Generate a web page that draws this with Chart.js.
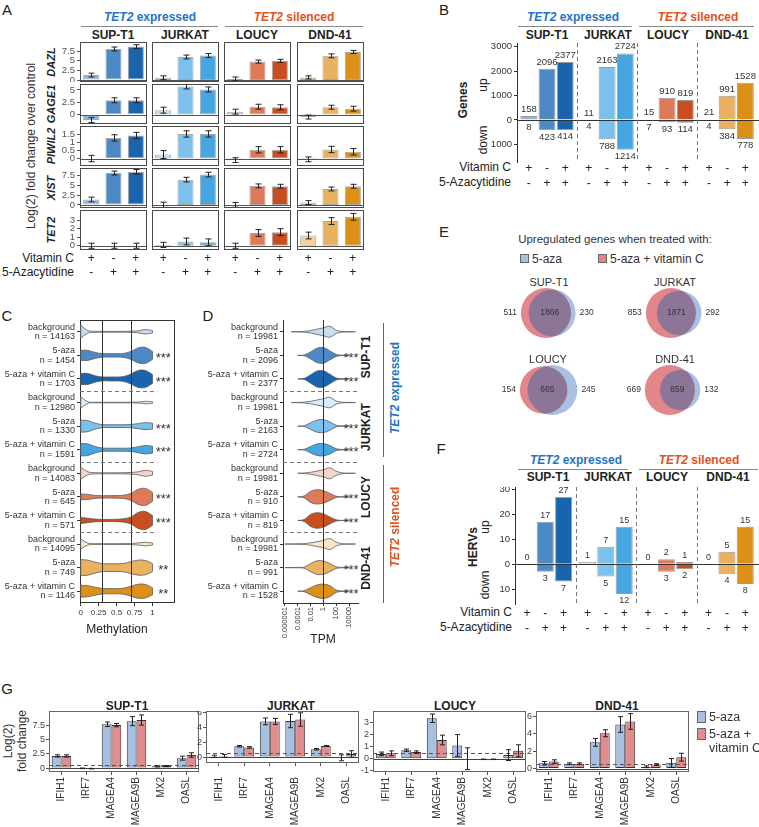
<!DOCTYPE html>
<html lang="en">
<head>
<meta charset="UTF-8">
<script src="https://cdn.jsdelivr.net/npm/chart.js"></script>
<title>TET2 expression and 5-azacytidine response</title>
<style>
  body { margin: 0; background: #fff; }
  #fig { position: relative; width: 759px; height: 827px; overflow: hidden; font-family: "Liberation Sans", Arial, sans-serif; }
  #fig canvas { position: absolute; }
  .t { position: absolute; white-space: nowrap; line-height: 1; }
  .rule { position: absolute; background: #777; }
  .sq { position: absolute; border: 1px solid #666; box-sizing: border-box; }
</style>
</head>
<body>
<div id="fig"></div>
<script>
// ---------- data ----------
const cellLines = ['SUP-T1', 'JURKAT', 'LOUCY', 'DND-41'];
const vitaminC = ['+', '-', '+'];
const azacytidine = ['-', '+', '+'];

// A: log2 fold change, [cell line][vitC, 5-aza, 5-aza+vitC]
const genesA = ['DAZL', 'GAGE1', 'PIWIL2', 'XIST', 'TET2'];
const dazlFold = [[1.3, 8.1, 8.7], [0.6, 6.0, 6.4], [0.3, 4.8, 5.0], [0.7, 6.3, 7.3]];
const dazlErr = [[0.5, 0.5, 0.5], [0.5, 0.5, 0.5], [0.5, 0.4, 0.4], [0.4, 0.5, 0.4]];
const gage1Fold = [[-1.1, 2.9, 2.9], [0.9, 5.7, 5.1], [0.6, 1.6, 1.5], [-0.5, 1.5, 1.2]];
const gage1Err = [[0.5, 0.5, 0.5], [0.6, 0.5, 0.5], [0.5, 0.5, 0.5], [0.4, 0.4, 0.5]];
const piwil2Fold = [[0, 1.3, 1.45], [0.25, 1.55, 1.55], [-0.1, 0.55, 0.55], [-0.05, 0.57, 0.43]];
const piwil2Err = [[0.2, 0.2, 0.2], [0.25, 0.2, 0.2], [0.15, 0.2, 0.2], [0.15, 0.2, 0.2]];
const xistFold = [[1.4, 8.2, 8.5], [0, 6.5, 7.8], [0, 4.9, 4.8], [0.6, 4.1, 4.8]];
const xistErr = [[0.6, 0.5, 0.6], [0.7, 0.6, 0.6], [0.6, 0.5, 0.5], [0.5, 0.5, 0.5]];
const tet2Fold = [[0, 0, 0], [0.1, 0.5, 0.4], [0, 1.5, 1.6], [1.2, 2.9, 3.4]];
const tet2Err = [[0.3, 0.3, 0.3], [0.3, 0.4, 0.4], [0.3, 0.4, 0.4], [0.4, 0.4, 0.4]];

// B: differentially expressed genes
const genesUp = [158, 2096, 2377, 11, 2163, 2724, 15, 910, 819, 21, 991, 1528];
const genesDown = [8, 423, 414, 4, 788, 1214, 7, 93, 114, 4, 384, 778];

// F: HERVs
const hervsUp = [0, 17, 27, 1, 7, 15, 0, 2, 1, 0, 5, 15];
const hervsDown = [0, 3, 7, 0, 5, 12, 0, 3, 2, 0, 4, 8];

// C / D: violins
const violinGroups = ['background', '5-aza', '5-aza + vitamin C'];
const methN = [14163, 1454, 1703, 12980, 1330, 1591, 14083, 645, 571, 14095, 749, 1146];
const tpmN = [19981, 2096, 2377, 19981, 2163, 2724, 19981, 910, 819, 19981, 991, 1528];
const methStars = ['', '***', '***', '', '***', '***', '', '***', '***', '', '**', '**'];
const tpmStars = ['', '***', '***', '', '***', '***', '', '***', '***', '', '***', '***'];
const methGrid = [0, 0.1, 0.2, 0.3, 0.4, 0.5, 0.6, 0.7, 0.8, 0.9, 1.0];
const methDensity = [
  [0.65, 0.12, 0.05, 0.04, 0.04, 0.04, 0.04, 0.05, 0.1, 0.22, 0.12],
  [0.5, 0.5, 0.3, 0.18, 0.17, 0.17, 0.2, 0.4, 0.75, 0.8, 0.4],
  [0.55, 0.55, 0.32, 0.2, 0.2, 0.2, 0.25, 0.5, 0.85, 0.85, 0.45],
  [0.55, 0.08, 0.03, 0.03, 0.03, 0.03, 0.03, 0.03, 0.05, 0.12, 0.08],
  [0.6, 0.55, 0.3, 0.15, 0.14, 0.14, 0.14, 0.16, 0.25, 0.35, 0.3],
  [0.62, 0.58, 0.32, 0.17, 0.15, 0.15, 0.15, 0.18, 0.3, 0.42, 0.35],
  [0.6, 0.15, 0.06, 0.05, 0.05, 0.05, 0.06, 0.08, 0.15, 0.3, 0.18],
  [0.3, 0.25, 0.15, 0.12, 0.12, 0.13, 0.17, 0.35, 0.75, 0.85, 0.45],
  [0.3, 0.22, 0.14, 0.1, 0.1, 0.12, 0.17, 0.35, 0.8, 0.9, 0.5],
  [0.5, 0.1, 0.04, 0.04, 0.04, 0.04, 0.04, 0.05, 0.1, 0.18, 0.1],
  [0.8, 0.75, 0.55, 0.4, 0.38, 0.38, 0.42, 0.6, 0.75, 0.72, 0.4],
  [0.6, 0.55, 0.4, 0.28, 0.26, 0.26, 0.3, 0.5, 0.7, 0.68, 0.35]
];
const tpmGrid = [1e-6, 1e-5, 1e-4, 1e-3, 0.01, 0.1, 1, 10, 100, 1e3, 1e4, 1e5];
const tpmDensity = [
  [0, 0, 0.01, 0.04, 0.12, 0.26, 0.4, 0.55, 0.16, 0.03, 0.01, 0.005],
  [0, 0, 0, 0.04, 0.35, 0.72, 0.78, 0.45, 0.1, 0.02, 0, 0],
  [0, 0, 0, 0.06, 0.42, 0.8, 0.82, 0.48, 0.1, 0.02, 0, 0],
  [0, 0, 0.01, 0.04, 0.12, 0.25, 0.38, 0.52, 0.15, 0.03, 0.015, 0.005],
  [0, 0, 0, 0.04, 0.33, 0.6, 0.65, 0.42, 0.08, 0.02, 0, 0],
  [0, 0, 0, 0.04, 0.32, 0.58, 0.62, 0.42, 0.09, 0.02, 0, 0],
  [0, 0, 0, 0.03, 0.1, 0.22, 0.35, 0.55, 0.2, 0.04, 0.01, 0],
  [0, 0, 0, 0.1, 0.55, 0.72, 0.62, 0.35, 0.06, 0.01, 0, 0],
  [0, 0, 0, 0.1, 0.6, 0.78, 0.66, 0.35, 0.06, 0.01, 0, 0],
  [0.005, 0.01, 0.02, 0.04, 0.12, 0.24, 0.36, 0.55, 0.18, 0.04, 0.01, 0],
  [0.005, 0.01, 0.02, 0.06, 0.4, 0.68, 0.66, 0.4, 0.08, 0.02, 0, 0],
  [0, 0, 0, 0.05, 0.35, 0.62, 0.72, 0.55, 0.12, 0.02, 0, 0]
];
const methTicks = [0, 0.25, 0.5, 0.75, 1];
const tpmTicks = [1e-6, 1e-4, 1e-2, 1, 100, 1e4];
const tpmTickLabels = ['0.000001', '0.0001', '0.01', '1', '100', '10000'];

// E: Venn counts (upregulated genes)
const vennAzaCOnly = [511, 853, 154, 669];
const vennOverlap = [1866, 1871, 665, 859];
const vennAzaOnly = [230, 292, 245, 132];

// G: interferon / cancer-testis genes
const genesG = ['IFIH1', 'IRF7', 'MAGEA4', 'MAGEA9B', 'MX2', 'OASL'];
const supAza = [2.15, -0.05, 7.75, 8.3, 0.3, 1.75];
const supAzaErr = [0.2, 0.05, 0.4, 0.8, 0.1, 0.35];
const supAzaC = [2.15, -0.1, 7.6, 8.5, 0.35, 2.3];
const supAzaCErr = [0.2, 0.05, 0.3, 0.9, 0.1, 0.4];
const jurAza = [0.1, 1.45, 4.8, 4.85, 1.05, -0.1];
const jurAzaErr = [0.15, 0.1, 0.45, 0.9, 0.1, 0.4];
const jurAzaC = [0.15, 1.3, 4.8, 5.05, 1.5, 0.4];
const jurAzaCErr = [0.2, 0.1, 0.4, 0.9, 0.05, 0.45];
const louAza = [0.4, 0.7, 3.35, 1.1, -0.05, 0.3];
const louAzaErr = [0.15, 0.1, 0.35, 0.9, 0.02, 0.45];
const louAzaC = [0.45, 0.55, 1.55, 0, -0.05, 0.65];
const louAzaCErr = [0.2, 0.1, 0.4, 0.9, 0.02, 0.5];
const dndAza = [0.6, 0.55, 3.0, 5.05, 0.2, 0.65];
const dndAzaErr = [0.2, 0.1, 0.45, 0.9, 0.1, 0.5];
const dndAzaC = [0.8, 0.55, 4.05, 5.4, 0.45, 1.3];
const dndAzaCErr = [0.2, 0.1, 0.4, 0.9, 0.1, 0.45];

// ---------- style ----------
const FONT = '"Liberation Sans", Arial, sans-serif';
const BLUE = '#1f74c4', ORANGE = '#df521b';
const cellColors = [
  ['#8fb5de', '#4d89c5', '#1a64ae'],
  ['#bcdff5', '#7cc0ed', '#46a6e1'],
  ['#edb8a1', '#de7a57', '#c84e1f'],
  ['#f5d29c', '#eab160', '#dc9018']
];
const bgViolin = ['#c9dcf0', '#dcedf9', '#f5d5c8', '#fae5c4'];
const barColors = cellColors.flat();
const violinColors = methN.map((_, i) => i % 3 === 0 ? bgViolin[Math.floor(i / 3)] : cellColors[Math.floor(i / 3)][i % 3]);

Chart.defaults.font.family = FONT;
Chart.defaults.color = '#333';
Chart.defaults.animation = false;
Chart.defaults.plugins.legend.display = false;
Chart.defaults.plugins.tooltip.enabled = false;

const fig = document.getElementById('fig');

function addCanvas(x, y, w, h) {
  const c = document.createElement('canvas');
  c.width = w; c.height = h;
  c.style.left = x + 'px'; c.style.top = y + 'px';
  c.style.width = w + 'px'; c.style.height = h + 'px';
  fig.appendChild(c);
  return c;
}

function txt(html, x, y, o = {}) {
  const d = document.createElement('div');
  d.className = 't';
  d.innerHTML = html;
  const ax = o.align === 'right' ? -100 : o.align === 'left' ? 0 : -50;
  d.style.left = x + 'px';
  d.style.top = y + 'px';
  d.style.fontSize = (o.size || 12) + 'px';
  d.style.fontWeight = o.bold ? 'bold' : 'normal';
  if (o.italic) d.style.fontStyle = 'italic';
  d.style.color = o.color || '#222';
  if (o.lh) { d.style.lineHeight = o.lh + 'px'; d.style.textAlign = 'center'; }
  d.style.transform = 'translate(' + ax + '%, -50%)' + (o.rot ? ' rotate(' + o.rot + 'deg)' : '');
  fig.appendChild(d);
}

function rule(x, y, w, h, color) {
  const d = document.createElement('div');
  d.className = 'rule';
  d.style.cssText = 'left:' + x + 'px;top:' + y + 'px;width:' + w + 'px;height:' + h + 'px;' + (color ? 'background:' + color : '');
  fig.appendChild(d);
}

function square(x, y, w, h, color) {
  const d = document.createElement('div');
  d.className = 'sq';
  d.style.cssText = 'left:' + x + 'px;top:' + y + 'px;width:' + w + 'px;height:' + h + 'px;background:' + color;
  fig.appendChild(d);
}

const setTicks = vals => s => { s.ticks = vals.map(v => ({ value: v })); };
const fitW = w => s => { s.width = w; s.paddingTop = 0; s.paddingBottom = 0; };
const fitH = h => s => { s.height = h; s.paddingLeft = 0; s.paddingRight = 0; };
const base = o => Object.assign({ responsive: false, animation: false, events: [], layout: { padding: 0, autoPadding: false } }, o);
// one row of +/- treatment labels under the bars
const treatAxis = (extra, h, pad, weight, labels) => Object.assign({
  position: 'bottom', weight, grid: { display: false, drawTicks: false }, border: { display: false },
  ticks: { autoSkip: false, maxRotation: 0, color: '#222', font: { size: 12 }, padding: pad,
    callback: (v, i) => labels[i % 3] },
  afterFit: fitH(h)
}, extra);

// ---------- plugins ----------
const extras = {
  id: 'extras',
  afterDatasetsDraw(chart, args, o) {
    const { ctx, chartArea: a, scales } = chart;
    const y = scales.y;
    ctx.save();
    (o.hlines || []).forEach(h => {
      const py = Math.round(y.getPixelForValue(h.v)) + 0.5;
      ctx.beginPath();
      ctx.setLineDash(h.dash || []);
      ctx.strokeStyle = h.color; ctx.lineWidth = 1;
      ctx.moveTo(a.left, py); ctx.lineTo(a.right, py); ctx.stroke();
    });
    ctx.setLineDash([]);
    if (o.errors) {
      chart.data.datasets.forEach((ds, di) => {
        if (!ds.errors) return;
        const meta = chart.getDatasetMeta(di);
        meta.data.forEach((el, i) => {
          const v = meta.controller.getParsed(i).y, e = ds.errors[i];
          const y1 = y.getPixelForValue(v - e), y2 = y.getPixelForValue(v + e);
          const px = Math.round(el.x) + 0.5;
          ctx.strokeStyle = '#222'; ctx.lineWidth = 1;
          ctx.beginPath();
          ctx.moveTo(px, y1); ctx.lineTo(px, y2);
          ctx.moveTo(px - o.errors, y1); ctx.lineTo(px + o.errors, y1);
          ctx.moveTo(px - o.errors, y2); ctx.lineTo(px + o.errors, y2);
          ctx.stroke();
        });
      });
    }
    if (o.groupSeps) {
      const els = chart.getDatasetMeta(0).data;
      ctx.strokeStyle = '#777'; ctx.lineWidth = 1; ctx.setLineDash([4, 3]);
      o.groupSeps.forEach(k => {
        const px = Math.round((els[k].x + els[k + 1].x) / 2) + 0.5;
        ctx.beginPath(); ctx.moveTo(px, a.top); ctx.lineTo(px, a.bottom); ctx.stroke();
      });
      ctx.setLineDash([]);
    }
    if (o.valueLabels) {
      ctx.font = o.valueLabels + 'px ' + FONT;
      ctx.fillStyle = '#333'; ctx.textAlign = 'center';
      [0, 1].forEach(di => {
        const meta = chart.getDatasetMeta(di);
        meta.data.forEach((el, i) => {
          const v = meta.controller.getParsed(i).y;
          if (di === 1 && v === 0) return;
          ctx.textBaseline = di === 0 ? 'bottom' : 'top';
          ctx.fillText(String(Math.abs(v)), el.x, di === 0 ? el.y - 2 : el.y + 2);
        });
      });
    }
    if (o.frame) {
      ctx.strokeStyle = o.frame; ctx.lineWidth = 1;
      ctx.strokeRect(a.left + 0.5, a.top + 0.5, a.width - 1, a.height - 1);
    }
    ctx.restore();
  }
};

function smooth(ctx, pts) {
  for (let i = 0; i < pts.length - 1; i++) {
    const p0 = pts[Math.max(i - 1, 0)], p1 = pts[i], p2 = pts[i + 1], p3 = pts[Math.min(i + 2, pts.length - 1)];
    ctx.bezierCurveTo(p1[0] + (p2[0] - p0[0]) / 6, p1[1] + (p2[1] - p0[1]) / 6,
      p2[0] - (p3[0] - p1[0]) / 6, p2[1] - (p3[1] - p1[1]) / 6, p2[0], p2[1]);
  }
}

const violin = {
  id: 'violin',
  afterDatasetsDraw(chart, args, o) {
    if (!o.densities) return;
    const { ctx, chartArea: a, scales: { x, y } } = chart;
    ctx.save();
    o.densities.forEach((dens, i) => {
      const yc = y.getPixelForValue(i);
      let j0 = dens.findIndex(d => d > 0), j1 = dens.length - 1;
      while (dens[j1] === 0) j1--;
      j0 = Math.max(j0 - 1, 0); j1 = Math.min(j1 + 1, dens.length - 1);
      const top = [], bot = [];
      for (let j = j0; j <= j1; j++) {
        const px = x.getPixelForValue(o.grid[j]);
        top.push([px, yc - dens[j] * o.halfWidth]);
        bot.unshift([px, yc + dens[j] * o.halfWidth]);
      }
      ctx.beginPath();
      ctx.moveTo(top[0][0], top[0][1]);
      smooth(ctx, top);
      ctx.lineTo(bot[0][0], bot[0][1]);
      smooth(ctx, bot);
      ctx.closePath();
      ctx.fillStyle = o.colors[i]; ctx.fill();
      ctx.strokeStyle = '#5a5a5a'; ctx.lineWidth = 0.8; ctx.stroke();
    });
    ctx.strokeStyle = '#333'; ctx.lineWidth = 1;
    o.vlines.forEach(v => {
      const px = Math.round(x.getPixelForValue(v)) + 0.5;
      ctx.beginPath(); ctx.moveTo(px, a.top); ctx.lineTo(px, a.bottom); ctx.stroke();
    });
    ctx.strokeStyle = '#777'; ctx.setLineDash([4, 3]);
    const sepEnd = o.sepEnd ? x.getPixelForValue(o.sepEnd) : a.right;
    o.seps.forEach(k => {
      const py = Math.round((y.getPixelForValue(k) + y.getPixelForValue(k + 1)) / 2) + 0.5;
      ctx.beginPath(); ctx.moveTo(a.left, py); ctx.lineTo(sepEnd, py); ctx.stroke();
    });
    ctx.setLineDash([]);
    ctx.font = '13px ' + FONT; ctx.fillStyle = '#333';
    ctx.textAlign = 'center'; ctx.textBaseline = 'middle';
    o.stars.forEach((s, i) => ctx.fillText(s, x.getPixelForValue(o.starValue), y.getPixelForValue(i) + 3));
    ctx.restore();
  }
};

const venn = {
  id: 'venn',
  afterDatasetsDraw(chart, args, o) {
    if (!o.counts) return;
    const { ctx } = chart;
    const a = chart.getDatasetMeta(0).data[0], b = chart.getDatasetMeta(1).data[0];
    const ra = a.options.radius, rb = b.options.radius;
    ctx.save();
    ctx.beginPath(); ctx.arc(a.x, a.y, ra, 0, Math.PI * 2); ctx.clip();
    ctx.beginPath(); ctx.arc(b.x, b.y, rb, 0, Math.PI * 2);
    ctx.fillStyle = o.overlap; ctx.fill();
    ctx.restore();
    ctx.save();
    ctx.font = '8.5px ' + FONT; ctx.fillStyle = '#333'; ctx.textBaseline = 'middle';
    ctx.textAlign = 'right'; ctx.fillText(String(o.counts[0]), a.x - ra - 4, a.y);
    ctx.textAlign = 'center'; ctx.fillText(String(o.counts[1]), ((a.x + ra) + (b.x - rb)) / 2, a.y);
    ctx.textAlign = 'left'; ctx.fillText(String(o.counts[2]), b.x + rb + 4, b.y);
    ctx.restore();
  }
};

Chart.register(extras, violin, venn);

// ---------- panel letters ----------
[['A', 7, 9], ['B', 444, 9], ['C', 7, 315], ['D', 208, 315], ['E', 444, 231], ['F', 441, 448], ['G', 7, 688]]
  .forEach(([s, x, y]) => txt(s, x, y, { size: 15 }));

function groupHeader(y, exp, sil, names, nameY) {
  txt('<i>TET2</i> expressed', exp[2], y, { size: 12, bold: true, color: BLUE });
  txt('<i>TET2</i> silenced', sil[2], y, { size: 12, bold: true, color: ORANGE });
  rule(exp[0], y + 9, exp[1] - exp[0], 1, '#888');
  rule(sil[0], y + 9, sil[1] - sil[0], 1, '#888');
  cellLines.forEach((c, i) => txt(c, names[i], nameY, { size: 12, bold: true }));
}

// ---------- A ----------
groupHeader(17, [81, 218, 150], [225, 363, 294], [113, 185, 257, 330], 35);
txt('Log(2) fold change over control', 31, 146, { size: 12, rot: -90, color: '#333' });
const foldA = [dazlFold, gage1Fold, piwil2Fold, xistFold, tet2Fold];
const errA = [dazlErr, gage1Err, piwil2Err, xistErr, tet2Err];
const colLeftA = [80, 152, 224, 297];
const rowTopA = [42, 84, 126, 168, 210];
const yRangeA = [[-0.5, 9.9], [-1.9, 6.2], [-0.47, 2.05], [-0.8, 9.5], [-0.5, 4.2]];
const yTicksA = [[0, 2.5, 5, 7.5], [0, 2.5, 5], [0, 0.5, 1, 1.5], [0, 2.5, 5, 7.5], [0, 1, 2, 3]];
genesA.forEach((g, r) => txt(g, 51, rowTopA[r] + 20, { size: 11, bold: true, italic: true, rot: -90 }));
txt('Vitamin C', 74, 258, { align: 'right' });
txt('5-Azacytidine', 74, 272, { align: 'right' });

foldA.forEach((geneVals, r) => geneVals.forEach((vals, c) => {
  const yW = c === 0 ? 28 : 0, last = r === 4;
  const cv = addCanvas(colLeftA[c] - yW, rowTopA[r], 67 + yW, 40 + (last ? 30 : 0));
  new Chart(cv, {
    type: 'bar',
    data: {
      labels: vitaminC,
      datasets: [{ data: vals, errors: errA[r][c], backgroundColor: cellColors[c], borderColor: '#a8a8a8',
        borderWidth: 1, borderSkipped: false, barPercentage: 0.72, categoryPercentage: 1 }]
    },
    options: base({
      scales: {
        x: treatAxis({ display: last }, last ? 14 : 0, 1, 0, vitaminC),
        x2: treatAxis({ display: last, type: 'category', labels: azacytidine, offset: true }, last ? 16 : 0, 1, 1, azacytidine),
        y: { display: c === 0, min: yRangeA[r][0], max: yRangeA[r][1],
          grid: { drawOnChartArea: false, tickLength: 3, color: '#555' }, border: { display: false },
          ticks: { autoSkip: false, color: '#555', font: { size: 9.5 }, padding: 2, callback: v => String(v) },
          afterBuildTicks: setTicks(yTicksA[r]), afterFit: fitW(yW) }
      },
      plugins: { extras: { frame: '#4a4a4a', hlines: [{ v: 0, color: '#555' }], errors: 3 } }
    })
  });
}));

// ---------- B and F ----------
function updownChart(x, y, w, h, yW, up, down, range, ticks, labelSize, pad) {
  const pos = up.map((_, i) => Math.floor(i / 3) * 3.3 + i % 3);
  const common = { backgroundColor: barColors, borderColor: '#9c9c9c', borderWidth: 1, grouped: false,
    barPercentage: 0.93, categoryPercentage: 1 };
  const lin = { type: 'linear', offset: false, min: -0.65, max: 12.65, afterBuildTicks: setTicks(pos) };
  new Chart(addCanvas(x, y, w, h), {
    type: 'bar',
    data: {
      datasets: [
        Object.assign({ data: up.map((v, i) => ({ x: pos[i], y: v })) }, common),
        Object.assign({ data: down.map((v, i) => ({ x: pos[i], y: -v })) }, common)
      ]
    },
    options: base({
      scales: {
        x: treatAxis(Object.assign({}, lin), 15, pad, 0, vitaminC),
        x2: treatAxis(Object.assign({}, lin), 15, pad, 1, azacytidine),
        y: { min: range[0], max: range[1], grid: { drawOnChartArea: false, tickLength: 3, color: '#333' },
          border: { display: true, color: '#333' },
          ticks: { autoSkip: false, color: '#333', font: { size: 9.5 }, padding: 2, callback: v => String(Math.abs(v)) },
          afterBuildTicks: setTicks(ticks), afterFit: fitW(yW) }
      },
      plugins: { extras: { hlines: [{ v: 0, color: '#333' }], groupSeps: [2, 5, 8], valueLabels: labelSize } }
    })
  });
}

groupHeader(17, [518, 632, 573], [639, 754, 698], [547, 608, 668, 727], 35);
txt('Genes', 463, 100, { size: 12, bold: true, rot: -90 });
txt('up', 483, 85, { size: 12, rot: -90 });
txt('down', 483, 140, { size: 12, rot: -90 });
txt('Vitamin C', 511, 167, { align: 'right' });
txt('5-Azacytidine', 511, 182, { align: 'right' });
updownChart(455, 43, 304, 119 + 30, 62, genesUp, genesDown, [-1720, 3150], [-1000, 0, 1000, 2000, 3000], 9.5, -1);

groupHeader(460, [518, 628, 576], [639, 758, 699], [548, 608, 667, 728], 477);
txt('HERVs', 473, 547, { size: 12, bold: true, rot: -90 });
txt('up', 485, 527, { size: 12, rot: -90 });
txt('down', 485, 585, { size: 12, rot: -90 });
txt('Vitamin C', 512, 612, { align: 'right' });
txt('5-Azacytidine', 512, 627, { align: 'right' });
updownChart(455, 487, 304, 117 + 30, 60, hervsUp, hervsDown, [-16, 31], [-10, 0, 10, 20, 30], 9, 2);

// ---------- C and D ----------
function violinChart(x, w, yW, xH, nList, xScale, pluginOpts, frame) {
  new Chart(addCanvas(x, 320, w, 283 + xH), {
    type: 'bar',
    data: { labels: nList.map((n, i) => [violinGroups[i % 3], 'n = ' + n]), datasets: [{ data: [] }] },
    options: base({
      indexAxis: 'y',
      scales: {
        x: Object.assign(xScale, { afterFit: fitH(xH) }),
        y: { type: 'category', grid: { drawOnChartArea: false, tickLength: 3, color: '#333', offset: false },
          border: { display: !frame, color: '#333' },
          ticks: { autoSkip: false, color: '#333', font: { size: 9, lineHeight: 1.05 }, padding: 2 },
          afterFit: fitW(yW) }
      },
      plugins: { violin: pluginOpts, extras: { frame: frame } }
    })
  });
}

violinChart(0, 175, 80, 20, methN, {
  type: 'linear', min: -0.01, max: 1.314,
  grid: { drawOnChartArea: false, tickLength: 3, color: '#333' }, border: { display: false },
  ticks: { autoSkip: false, color: '#333', font: { size: 8 }, padding: 2, callback: v => String(v) },
  afterBuildTicks: setTicks(methTicks)
}, { grid: methGrid, densities: methDensity, colors: violinColors, halfWidth: 10, stars: methStars,
  starValue: 1.15, seps: [2, 5, 8], sepEnd: 1.07, vlines: [0.3, 0.7] }, '#333');
txt('Methylation', 117, 629, { size: 12 });

violinChart(190, 169, 93, 45, tpmN, {
  type: 'logarithmic', min: 5e-7, max: 3.5e5,
  grid: { drawOnChartArea: false, tickLength: 3, color: '#333' }, border: { display: true, color: '#333' },
  ticks: { color: '#333', font: { size: 7.5 }, padding: 1, minRotation: 90, maxRotation: 90, autoSkip: false,
    callback: (v, i) => tpmTickLabels[i] },
  afterBuildTicks: setTicks(tpmTicks)
}, { grid: tpmGrid, densities: tpmDensity, colors: violinColors, halfWidth: 10, stars: tpmStars,
  starValue: 2e4, seps: [2, 5, 8], sepEnd: null, vlines: [1] }, null);
txt('TPM', 323, 639, { size: 12 });
[357, 427, 497, 568].forEach((yy, i) => txt(cellLines[i], 366, yy, { size: 12, bold: true, rot: -90 }));
rule(383, 323, 1, 134, '#666');
rule(383, 465, 1, 138, '#666');
txt('<i>TET2</i> expressed', 395, 388, { size: 12, bold: true, color: BLUE, rot: -90 });
txt('<i>TET2</i> silenced', 395, 527, { size: 12, bold: true, color: ORANGE, rot: -90 });

// ---------- E ----------
txt('Upregulated genes when treated with:', 615, 240, { size: 11.5, color: '#333' });
square(520, 254, 9, 9, '#a9c0e2'); txt('5-aza', 532, 259, { align: 'left', size: 12, color: '#333' });
square(598, 254, 9, 9, '#e3868a'); txt('5-aza + vitamin C', 610, 259, { align: 'left', size: 12, color: '#333' });

function lensArea(r1, r2, d) {
  if (d >= r1 + r2) return 0;
  if (d <= Math.abs(r1 - r2)) return Math.PI * Math.min(r1, r2) ** 2;
  const a1 = Math.acos((d * d + r1 * r1 - r2 * r2) / (2 * d * r1));
  const a2 = Math.acos((d * d + r2 * r2 - r1 * r1) / (2 * d * r2));
  return r1 * r1 * a1 + r2 * r2 * a2 - 0.5 * Math.sqrt((-d + r1 + r2) * (d + r1 - r2) * (d - r1 + r2) * (d + r1 + r2));
}
function vennDistance(r1, r2, area) {
  let lo = Math.abs(r1 - r2), hi = r1 + r2;
  for (let k = 0; k < 50; k++) {
    const mid = (lo + hi) / 2;
    if (lensArea(r1, r2, mid) > area) lo = mid; else hi = mid;
  }
  return (lo + hi) / 2;
}
const vennCenters = [[549, 313], [675, 313], [548, 390], [675, 390]];
cellLines.forEach((name, c) => {
  const [cx, cy] = vennCenters[c];
  txt(name, cx, cy - 31, { size: 11, color: '#333' });
  const tRed = vennAzaCOnly[c] + vennOverlap[c], tBlue = vennAzaOnly[c] + vennOverlap[c];
  const unit = Math.PI * 25 * 25 / Math.max(tRed, tBlue);
  const rRed = Math.sqrt(tRed * unit / Math.PI), rBlue = Math.sqrt(tBlue * unit / Math.PI);
  const d = vennDistance(rRed, rBlue, vennOverlap[c] * unit);
  new Chart(addCanvas(cx - 70, cy - 32, 140, 64), {
    type: 'bubble',
    data: {
      datasets: [
        { data: [{ x: -d / 2, y: 0, r: rRed }], backgroundColor: '#e3868a', borderWidth: 0 },
        { data: [{ x: d / 2, y: 0, r: rBlue }], backgroundColor: '#a9c0e2', borderWidth: 0 }
      ]
    },
    options: base({
      scales: { x: { display: false, min: -70, max: 70 }, y: { display: false, min: -32, max: 32 } },
      plugins: { venn: { counts: [vennAzaCOnly[c], vennOverlap[c], vennAzaOnly[c]], overlap: '#8d7598' } }
    })
  });
});

// ---------- G ----------
const gAza = [supAza, jurAza, louAza, dndAza];
const gAzaErr = [supAzaErr, jurAzaErr, louAzaErr, dndAzaErr];
const gAzaC = [supAzaC, jurAzaC, louAzaC, dndAzaC];
const gAzaCErr = [supAzaCErr, jurAzaCErr, louAzaCErr, dndAzaCErr];
const gBox = [[49, 199, 61], [206, 359, 52], [373, 526, 61], [536, 689, 61]];
const gYW = [21, 12, 14, 12];
const gRange = [[-0.7, 10.1], [-0.8, 6.2], [-1.1, 3.95], [-0.4, 6.6]];
const gTicks = [[0, 2.5, 5, 7.5], [0, 2, 4, 6], [-1, 0, 1, 2, 3], [0, 2, 4, 6]];
const gTitleX = [127, 291, 455, 617];
txt('Log(2)<br>fold change', 15, 741, { size: 12, rot: -90, lh: 14, color: '#333' });
gAza.forEach((aza, c) => {
  const [l, r, bh] = gBox[c], yW = gYW[c];
  txt(cellLines[c], gTitleX[c], 706, { size: 12, bold: true });
  const ds = (data, errors, color) => ({ data, errors, backgroundColor: color, borderColor: '#333', borderWidth: 1,
    borderSkipped: false, categoryPercentage: 0.78, barPercentage: 1 });
  new Chart(addCanvas(l - yW, 711, r - l + yW, 61 + 55), {
    type: 'bar',
    data: { labels: genesG, datasets: [ds(aza, gAzaErr[c], '#a7bfe1'), ds(gAzaC[c], gAzaCErr[c], '#e48b8d')] },
    options: base({
      scales: {
        x: { grid: { drawOnChartArea: false, tickLength: 3, color: '#555', offset: false }, border: { display: false },
          ticks: { color: '#333', font: { size: 10 }, padding: 2 + (61 - bh), minRotation: 90, maxRotation: 90, autoSkip: false },
          afterFit: fitH(55 + (61 - bh)) },
        y: { min: gRange[c][0], max: gRange[c][1], grid: { drawOnChartArea: false, tickLength: 3, color: '#555' },
          border: { display: false }, ticks: { autoSkip: false, color: '#444', font: { size: 9 }, padding: 1, callback: v => String(v) },
          afterBuildTicks: setTicks(gTicks[c]), afterFit: fitW(yW) }
      },
      plugins: { extras: { frame: '#666', errors: 2.5,
        hlines: [{ v: 0, color: '#444' }, { v: 0.5, color: '#555', dash: [4, 3] }] } }
    })
  });
});
square(697, 711, 9, 12, '#a7bfe1'); txt('5-aza', 709, 717, { align: 'left', size: 12.5, color: '#333' });
square(697, 728, 9, 12, '#e48b8d'); txt('5-aza +', 709, 734, { align: 'left', size: 12.5, color: '#333' });
txt('vitamin C', 709, 748, { align: 'left', size: 12.5, color: '#333' });
</script>
</body>
</html>
